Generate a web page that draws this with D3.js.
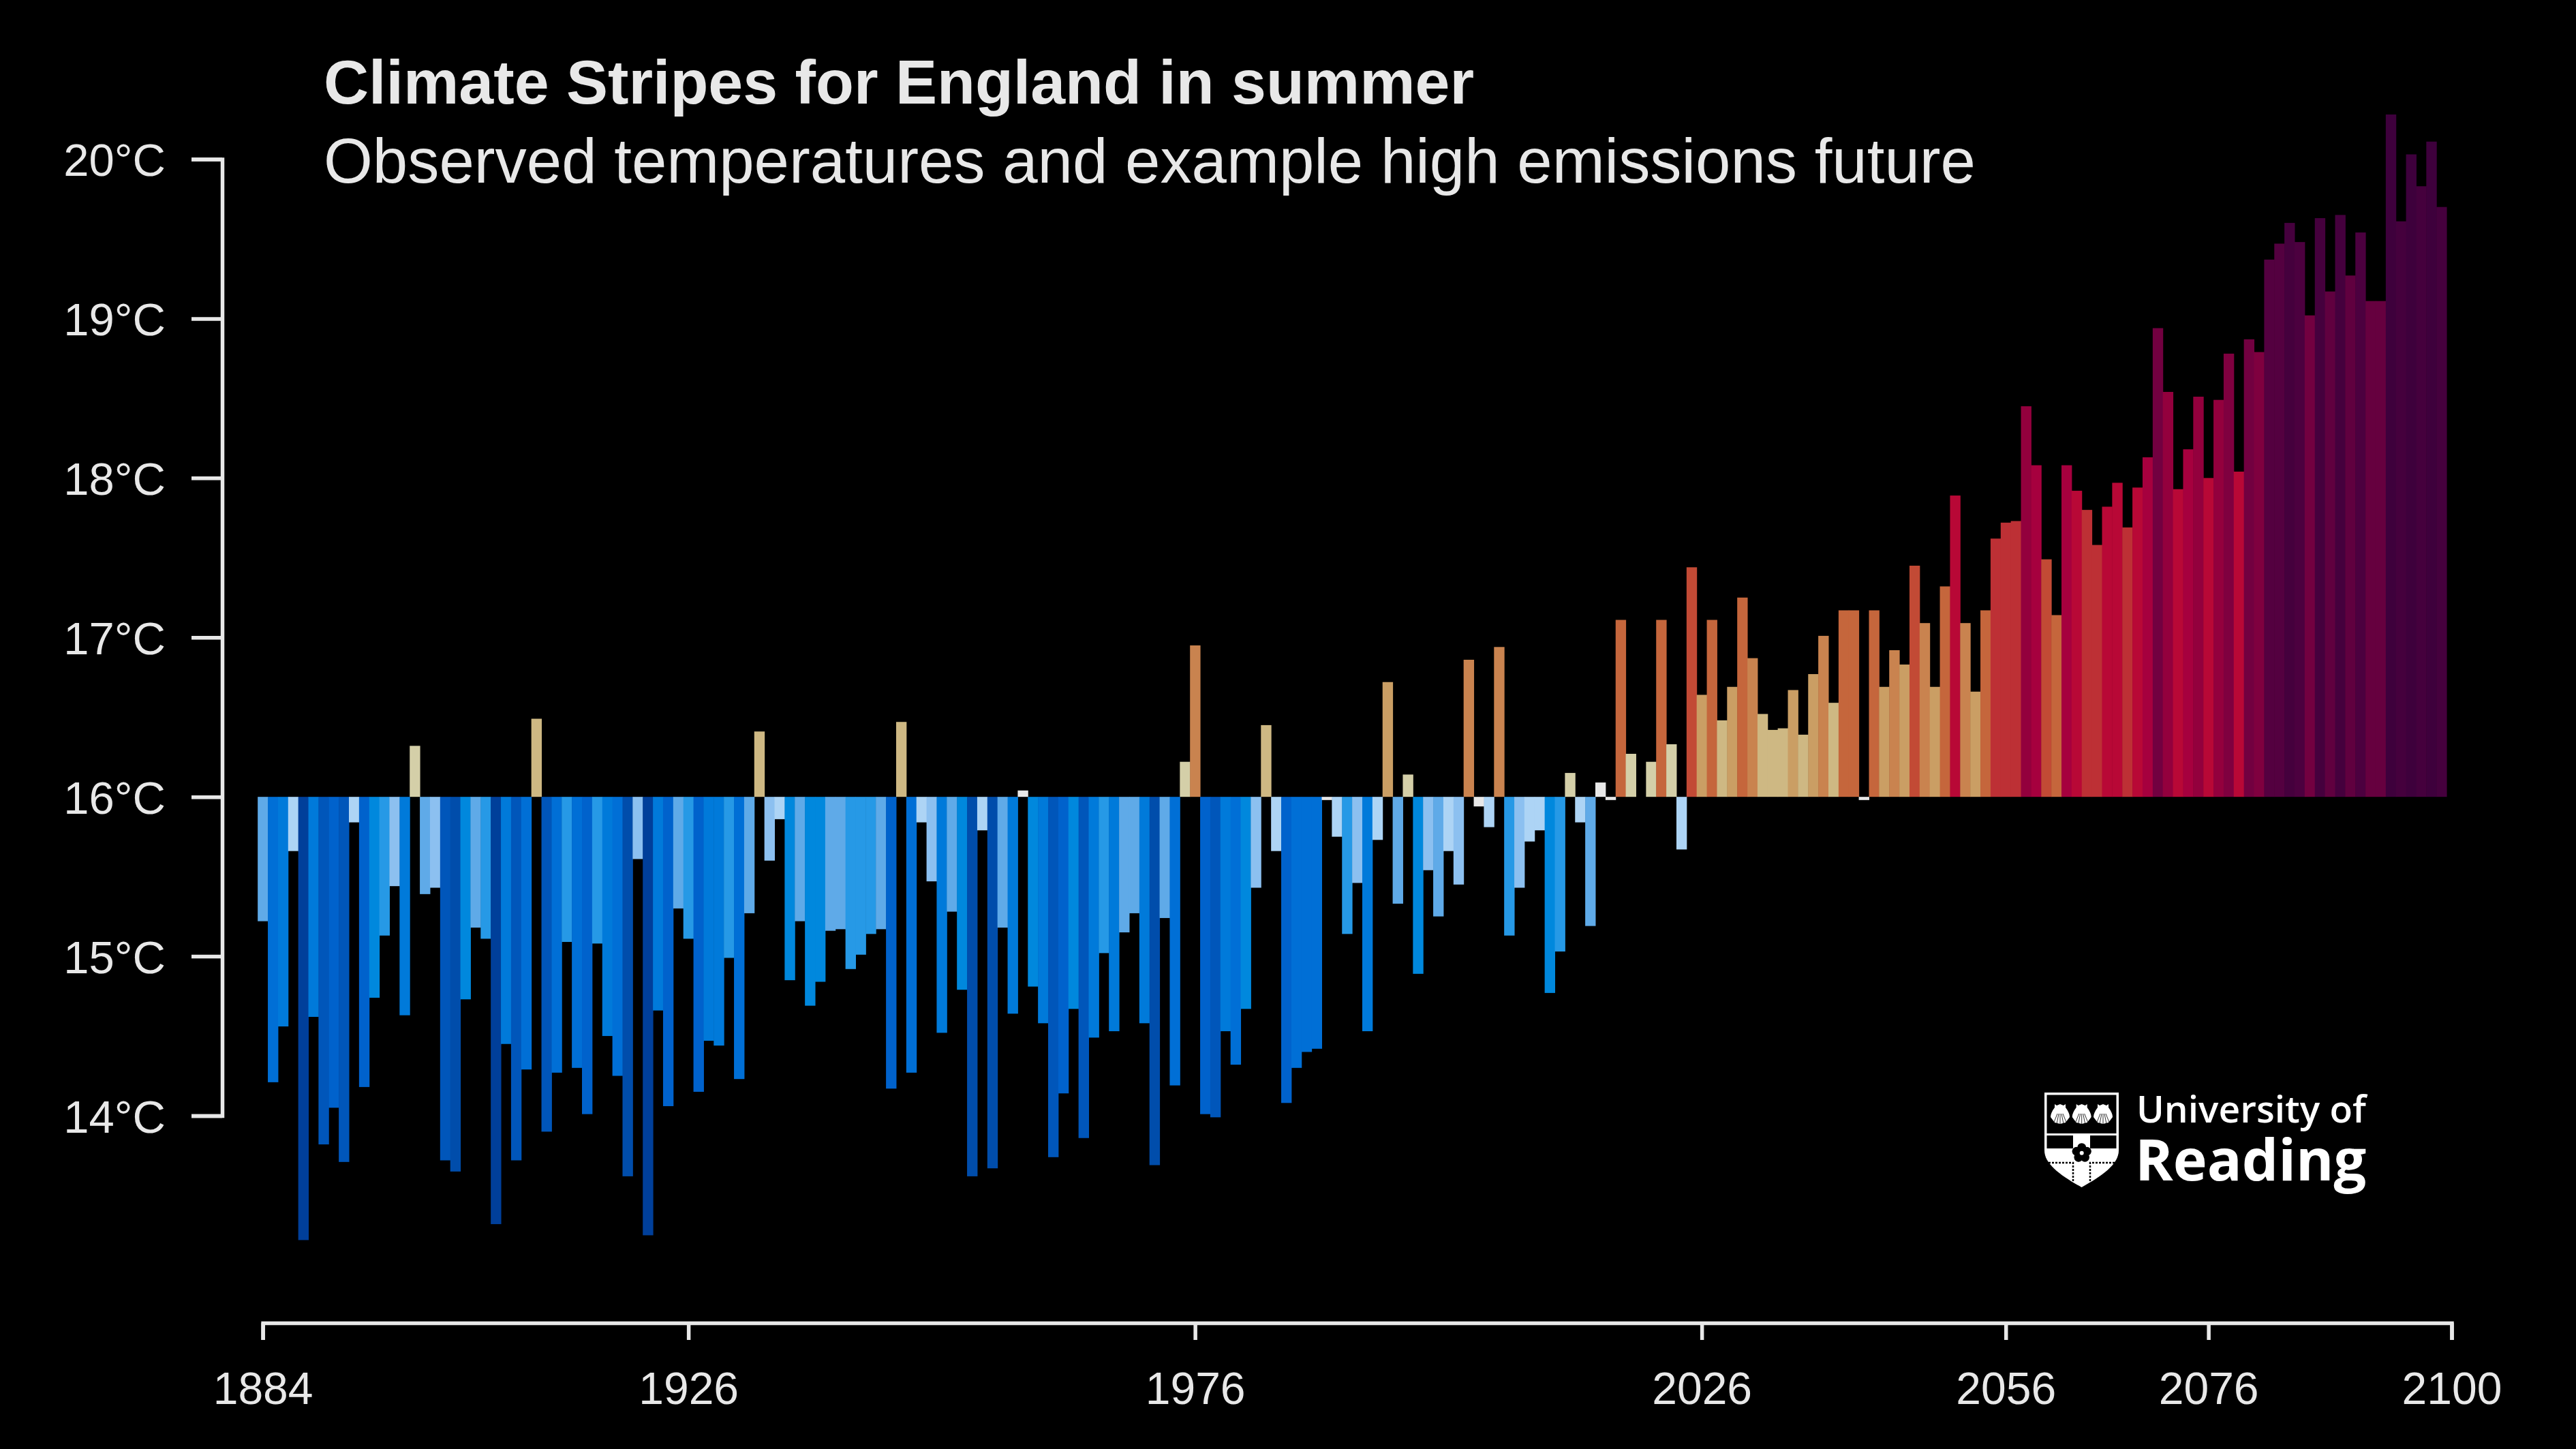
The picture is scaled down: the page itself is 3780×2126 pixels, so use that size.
<!DOCTYPE html>
<html>
<head>
<meta charset="utf-8">
<title>Climate Stripes for England in summer</title>
<script src="https://cdn.jsdelivr.net/npm/d3@7"></script>
<style>
  html, body { margin: 0; padding: 0; background: #000; }
  svg { display: block; }
  text { font-family: "Liberation Sans", Helvetica, Arial, sans-serif; fill: #e8e8e8; }
  .axis path, .axis line { stroke: #e8e8e8; stroke-width: 5.5; fill: none; }
  .axis text { font-size: 66px; }
</style>
</head>
<body>
<svg id="chart"></svg>
<script>
// summer mean temperature per year (deg C)
const firstYear = 1884;
const temps = [
  15.22, 14.21, 14.56, 15.66, 13.22, 14.62, 13.82, 14.05, 13.71, 15.84,
  14.18, 14.74, 15.13, 15.44, 14.63, 16.32, 15.39, 15.43, 13.72, 13.65,
  14.73, 15.18, 15.11, 13.32, 14.45, 13.72, 14.29, 16.49, 13.90, 14.27,
  15.09, 14.30, 14.01, 15.08, 14.50, 14.25, 13.62, 15.61, 13.25, 14.66,
  14.06, 15.30, 15.11, 14.15, 14.47, 14.44, 14.99, 14.23, 15.27, 16.41,
  15.60, 15.86, 14.85, 15.22, 14.69, 14.84, 15.16, 15.17, 14.92, 15.01,
  15.14, 15.17, 14.17, 16.47, 14.27, 15.84, 15.47, 14.52, 15.28, 14.79,
  13.62, 15.79, 13.67, 15.18, 14.64, 16.04, 14.81, 14.58, 13.74, 14.14,
  14.67, 13.86, 14.49, 15.02, 14.53, 15.15, 15.27, 14.58, 13.69, 15.24,
  14.19, 16.22, 16.95, 14.01, 13.99, 14.53, 14.32, 14.67, 15.43, 16.45,
  15.66, 14.08, 14.30, 14.40, 14.42, 15.98, 15.75, 15.14, 15.46, 14.53,
  15.73, 16.72, 15.33, 16.14, 14.89, 15.54, 15.25, 15.66, 15.45, 16.86,
  15.94, 15.81, 16.94, 15.13, 15.43, 15.72, 15.79, 14.77, 15.03, 16.15,
  15.84, 15.19, 16.09, 15.98, 17.11, 16.27, 16.00, 16.22, 17.11, 16.33,
  15.67, 17.44, 16.64, 17.11, 16.48, 16.69, 17.25, 16.87, 16.52, 16.42,
  16.43, 16.67, 16.39, 16.77, 17.01, 16.59, 17.17, 17.17, 15.98, 17.17,
  16.69, 16.92, 16.83, 17.45, 17.09, 16.69, 17.32, 17.89, 17.09, 16.66,
  17.17, 17.62, 17.72, 17.73, 18.45, 18.08, 17.49, 17.14, 18.08, 17.92,
  17.80, 17.58, 17.82, 17.97, 17.69, 17.94, 18.13, 18.94, 18.54, 17.93,
  18.18, 18.51, 18.00, 18.49, 18.78, 18.04, 18.87, 18.79, 19.37, 19.47,
  19.60, 19.48, 19.02, 19.63, 19.17, 19.65, 19.27, 19.54, 19.11, 19.11,
  20.28, 19.61, 20.03, 19.83, 20.11, 19.70
];
const xTicks = [1884, 1926, 1976, 2026, 2056, 2076, 2100];
const yTicks = [14, 15, 16, 17, 18, 19, 20];
const baseTemp = 16;

// stripe colours, binned by temperature
const colourBreaks = [13.45, 13.7, 14.0, 14.185, 14.43, 14.665, 14.9, 15.15, 15.42, 15.64, 15.9, 16.1, 16.36, 16.62, 16.84, 17.1, 17.38, 17.55, 17.81, 18.06, 18.3, 18.7, 18.85, 19.05, 19.15, 19.3, 19.48, 19.58, 19.9];
const colourBins = ["#003f9a", "#004dab", "#0056ba", "#0062cc", "#006fd6", "#007ada", "#0088dd", "#2699e6", "#5faae8", "#8cc0f0", "#add4f5", "#e8e8e8", "#d4cfa8", "#ceb883", "#ca9e64", "#c9834f", "#c5663c", "#c24a35", "#bd3035", "#b80836", "#a6003e", "#93003d", "#7f003f", "#720040", "#66003f", "#60003f", "#540040", "#4c003f", "#45003d", "#3e003c"];

const title = "Climate Stripes for England in summer";
const subtitle = "Observed temperatures and example high emissions future";

const width = 3780, height = 2126;
const svg = d3.select("#chart").attr("width", width).attr("height", height);

const xScale = d3.scaleLinear().domain([1884, 2100]).range([385.6, 3597.5]);
const yScale = d3.scaleLinear().domain([14, 20]).range([1637, 233.5]);
const colour = d3.scaleThreshold().domain(colourBreaks).range(colourBins);
const barWidth = xScale(1885) - xScale(1884);

// stripes hang from / stand on the 16C line
svg.append("g").selectAll("rect")
    .data(temps)
  .join("rect")
    .attr("x", (d, i) => xScale(firstYear + i) - barWidth / 2)
    .attr("width", barWidth + 0.5)  // small overlap so no dark seams show
    .attr("y", d => yScale(Math.max(d, baseTemp)))
    .attr("height", d => Math.abs(yScale(d) - yScale(baseTemp)))
    .attr("fill", d => colour(d));

// axes
const xAxis = d3.axisBottom(xScale)
    .tickValues(xTicks)
    .tickFormat(d3.format("d"))
    .tickSizeOuter(0)
    .tickSize(25)
    .tickPadding(47);
svg.append("g").attr("class", "axis")
    .attr("transform", "translate(0,1941)")
    .call(xAxis);

const yAxis = d3.axisLeft(yScale)
    .tickValues(yTicks)
    .tickFormat(d => d + "°C")
    .tickSizeOuter(0)
    .tickSize(45)
    .tickPadding(38);
const yAxisG = svg.append("g").attr("class", "axis")
    .attr("transform", "translate(326,0)")
    .call(yAxis);
yAxisG.selectAll("text").attr("style", "font-size:67px").attr("dy", "0.36em");

// titles
svg.append("text").attr("x", 475).attr("y", 152)
    .attr("style", "font-size:91.5px;font-weight:bold")
    .text(title);
svg.append("text").attr("x", 475).attr("y", 268)
    .attr("style", "font-size:92.4px")
    .text(subtitle);

// University of Reading logo
const logo = svg.append("g");
logo.append("text").attr("x", 3135).attr("y", 1647)
    .attr("style", "font-family:'Open Sans';font-size:55px;font-weight:600;fill:#fff")
    .text("University of");
logo.append("text").attr("x", 3133).attr("y", 1732)
    .attr("style", "font-family:'Open Sans';font-size:84.5px;font-weight:700;fill:#fff")
    .text("Reading");

const shield = logo.append("g").attr("transform", "translate(3000,1603)");
shield.append("path")
    .attr("d", "M0,0H109V85C109,105 85,122 54.5,139C24,122 0,105 0,85Z")
    .attr("fill", "#fff");
shield.append("rect").attr("x", 3.5).attr("y", 3.5).attr("width", 102).attr("height", 56.5).attr("fill", "#000");
shield.append("rect").attr("x", 3.5).attr("y", 63).attr("width", 38.5).attr("height", 19).attr("fill", "#000");
shield.append("rect").attr("x", 67).attr("y", 63).attr("width", 38.5).attr("height", 19).attr("fill", "#000");

// scallop shells
[23, 54.7, 86].forEach(cx => {
  const shell = shield.append("g").attr("transform", `translate(${cx},17)`);
  shell.append("path")
      .attr("d", "M-8,0 L-5,2 L0,0 L5,2 L8,0 L8,5 C12,10 14,15 14,19 L8,27 L0,29 L-8,27 L-14,19 C-14,15 -12,10 -8,5Z")
      .attr("fill", "#fff");
  [-2, -1, 0, 1, 2].forEach(k => {
    shell.append("line").attr("x1", k * 2).attr("y1", 14).attr("x2", k * 5).attr("y2", 29)
        .attr("stroke", "#000").attr("stroke-width", 0.8);
  });
});

// cross edges and rose
shield.append("path")
    .attr("d", "M1,103H42V130M67,130V103H108")
    .attr("fill", "none").attr("stroke", "#000").attr("stroke-width", 2.5).attr("stroke-dasharray", "3 2");
d3.range(5).forEach(k => {
  const a = -Math.PI / 2 + k * 2 * Math.PI / 5;
  shield.append("circle")
      .attr("cx", 54.7 + 8 * Math.cos(a)).attr("cy", 88.7 + 8 * Math.sin(a))
      .attr("r", 6.5).attr("fill", "#000");
});
shield.append("circle").attr("cx", 54.7).attr("cy", 88.7).attr("r", 3).attr("fill", "#fff");
</script>
</body>
</html>
